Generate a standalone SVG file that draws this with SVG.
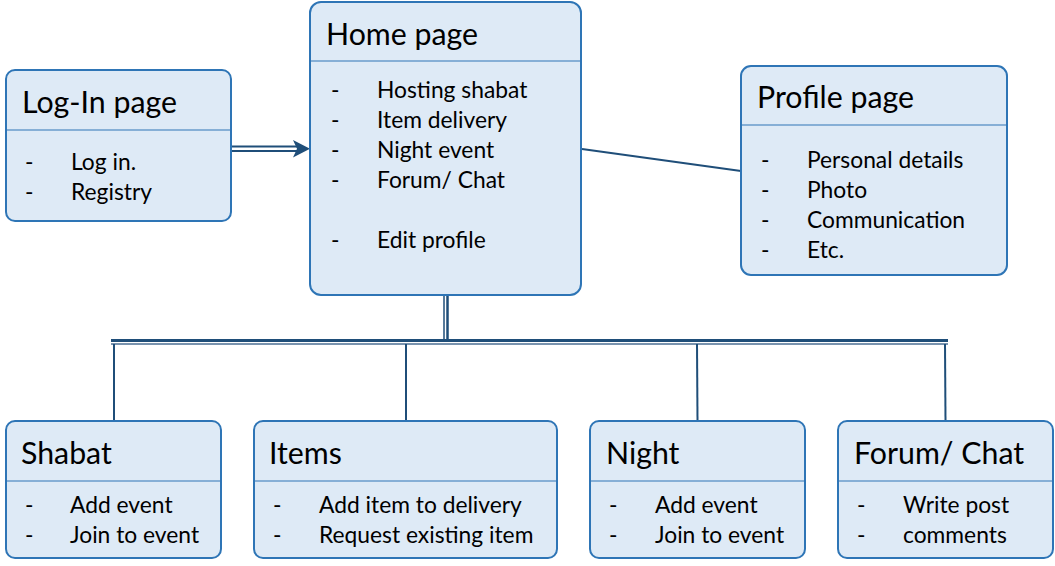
<svg xmlns="http://www.w3.org/2000/svg" width="1055" height="566" viewBox="0 0 1055 566">
<defs>
<style>
.box{fill:#deeaf6;stroke:#2e75b6;stroke-width:2}
.div{stroke:#2e75b6;stroke-width:1.2}
.t{font-family:Lato,"Liberation Sans",sans-serif;font-size:30.3px;fill:#000}
.b{font-family:Lato,"Liberation Sans",sans-serif;font-size:22.8px;fill:#000}
.c{fill:none;stroke:#1f4e79;stroke-width:2}
</style>
</defs>
<rect width="1055" height="566" fill="#fff"/>
<g id="connectors">
<line class="c" x1="231" y1="146.5" x2="298" y2="146.5"/>
<line class="c" x1="231" y1="151" x2="298" y2="151"/>
<polygon points="293,140 310,148.8 293,157.5 297,148.8" fill="#1f4e79"/>
<line class="c" x1="582" y1="149" x2="741" y2="171"/>
<line x1="444" y1="296" x2="444" y2="340" stroke="#1f4e79" stroke-width="1.5"/>
<line x1="447.5" y1="296" x2="447.5" y2="340" stroke="#1f4e79" stroke-width="2.5"/>
<line x1="111" y1="340.5" x2="948" y2="340.5" stroke="#1f4e79" stroke-width="3"/>
<line x1="111" y1="344" x2="948" y2="344" stroke="#4d6f93" stroke-width="1.5"/>
<line class="c" x1="114" y1="344" x2="114" y2="421"/>
<line class="c" x1="406" y1="344" x2="406" y2="421"/>
<line class="c" x1="697" y1="344" x2="697.5" y2="421"/>
<line class="c" x1="945" y1="344" x2="945.5" y2="421"/>
</g>
<g id="login">
<rect class="box" x="6" y="70" width="225" height="151" rx="9"/>
<line class="div" x1="6" y1="130" x2="231" y2="130"/>
<text class="t" x="22" y="113">Log-In page</text>
<text class="b" x="25" y="169.5">-</text><text class="b" x="71" y="169.5">Log in.</text>
<text class="b" x="25" y="199.5">-</text><text class="b" x="71" y="199.5">Registry</text>
</g>
<g id="home">
<rect class="box" x="310" y="2" width="271" height="293" rx="11"/>
<line class="div" x1="310" y1="61" x2="581" y2="61"/>
<text class="t" x="326" y="45">Home page</text>
<text class="b" x="331" y="97.5">-</text><text class="b" x="377" y="97.5">Hosting shabat</text>
<text class="b" x="331" y="127.5">-</text><text class="b" x="377" y="127.5">Item delivery</text>
<text class="b" x="331" y="157.5">-</text><text class="b" x="377" y="157.5">Night event</text>
<text class="b" x="331" y="187.5">-</text><text class="b" x="377" y="187.5">Forum/ Chat</text>
<text class="b" x="331" y="247.5">-</text><text class="b" x="377" y="247.5">Edit profile</text>
</g>
<g id="profile">
<rect class="box" x="741" y="66" width="266" height="209" rx="10"/>
<line class="div" x1="741" y1="125" x2="1007" y2="125"/>
<text class="t" x="757" y="108">Profile page</text>
<text class="b" x="761" y="167.5">-</text><text class="b" x="807" y="167.5">Personal details</text>
<text class="b" x="761" y="197.5">-</text><text class="b" x="807" y="197.5">Photo</text>
<text class="b" x="761" y="227.5">-</text><text class="b" x="807" y="227.5">Communication</text>
<text class="b" x="761" y="257.5">-</text><text class="b" x="807" y="257.5">Etc.</text>
</g>
<g id="shabat">
<rect class="box" x="6" y="421" width="215" height="137" rx="9"/>
<line class="div" x1="6" y1="481" x2="221" y2="481"/>
<text class="t" x="21" y="464">Shabat</text>
<text class="b" x="25" y="512.5">-</text><text class="b" x="70" y="512.5">Add event</text>
<text class="b" x="25" y="542.5">-</text><text class="b" x="70" y="542.5">Join to event</text>
</g>
<g id="items">
<rect class="box" x="254" y="421" width="303" height="137" rx="9"/>
<line class="div" x1="254" y1="481" x2="557" y2="481"/>
<text class="t" x="269" y="464">Items</text>
<text class="b" x="273" y="512.5">-</text><text class="b" x="319" y="512.5">Add item to delivery</text>
<text class="b" x="273" y="542.5">-</text><text class="b" x="319" y="542.5">Request existing item</text>
</g>
<g id="night">
<rect class="box" x="590" y="421" width="215" height="137" rx="9"/>
<line class="div" x1="590" y1="481" x2="805" y2="481"/>
<text class="t" x="606" y="464">Night</text>
<text class="b" x="609" y="512.5">-</text><text class="b" x="655" y="512.5">Add event</text>
<text class="b" x="609" y="542.5">-</text><text class="b" x="655" y="542.5">Join to event</text>
</g>
<g id="forum">
<rect class="box" x="838" y="421" width="215" height="137" rx="9"/>
<line class="div" x1="838" y1="481" x2="1053" y2="481"/>
<text class="t" x="854" y="464">Forum/ Chat</text>
<text class="b" x="857" y="512.5">-</text><text class="b" x="903" y="512.5">Write post</text>
<text class="b" x="857" y="542.5">-</text><text class="b" x="903" y="542.5">comments</text>
</g>
</svg>
